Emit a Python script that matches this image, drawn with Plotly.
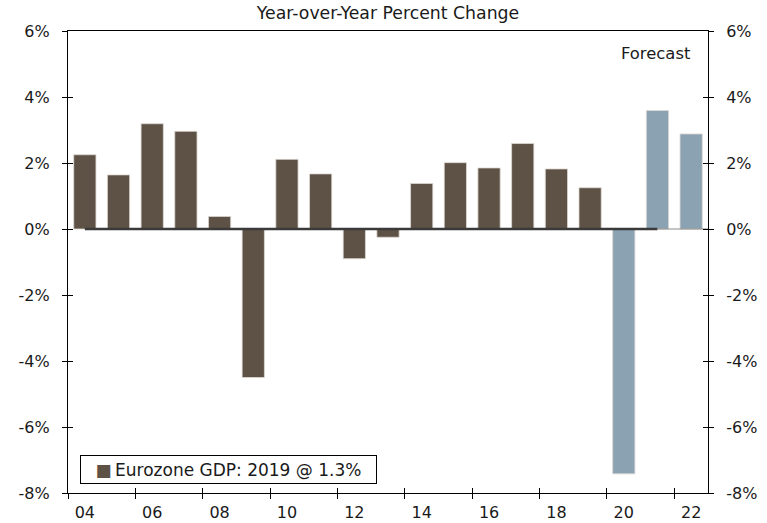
import plotly.graph_objects as go

years = list(range(2004, 2023))
gdp = [2.25, 1.64, 3.19, 2.96, 0.38, -4.5, 2.11, 1.67, -0.9, -0.25,
       1.38, 2.01, 1.85, 2.59, 1.82, 1.25, -7.42, 3.59, 2.88]
highlight = [2020, 2021, 2022]
tick_years = list(range(2004, 2023, 2))
tick_text = ["04", "06", "08", "10", "12", "14", "16", "18", "20", "22"]
y_ticks = [-8, -6, -4, -2, 0, 2, 4, 6]
y_text = ["-8%", "-6%", "-4%", "-2%", "0%", "2%", "4%", "6%"]
series_name = "Eurozone GDP: 2019 @ 1.3%"

BROWN = "#5E5246"
BLUE = "#8AA2B2"
FONT = "DejaVu Sans"

colors = [BLUE if y in highlight else BROWN for y in years]
xr = [years[0] - 0.5, years[-1] + 0.5]
boundaries = [t - 0.5 for t in tick_years]

fig = go.Figure()
fig.add_trace(go.Bar(
    x=years, y=gdp, width=0.66,
    marker=dict(color=colors, line=dict(color="#ddd8d2", width=0.8)),
    name=series_name, showlegend=False, hoverinfo="skip"))
# zero line
fig.add_trace(go.Scatter(x=[years[0], years[-2]], y=[0, 0], mode="lines",
                         line=dict(color="#3a3a3a", width=2.6),
                         showlegend=False, hoverinfo="skip"))
fig.add_trace(go.Scatter(x=[years[-2], xr[1]], y=[0, 0], mode="lines",
                         line=dict(color="#8a8a8a", width=1.2),
                         showlegend=False, hoverinfo="skip"))

# dummy traces to activate extra tick axes
for xa, ya in [("x2", "y"), ("x3", "y"), ("x", "y2"), ("x", "y3"), ("x", "y4")]:
    fig.add_trace(go.Scatter(x=[years[0]], y=[0], xaxis=xa, yaxis=ya,
                             mode="markers", marker=dict(opacity=0),
                             showlegend=False, hoverinfo="skip"))

tickfont = dict(family=FONT, size=16, color="#1a1a1a")
common = dict(showgrid=False, zeroline=False, automargin=False, fixedrange=True)

fig.update_layout(
    width=767, height=523,
    margin=dict(l=68, r=59, t=31, b=30, autoexpand=False),
    paper_bgcolor="white", plot_bgcolor="white",
    font=dict(family=FONT, size=16, color="#1a1a1a"),
    barmode="overlay",
    showlegend=False,
    title=dict(text="Year-over-Year Percent Change", x=0.5, xref="paper",
               xanchor="center", y=1 - 12.5 / 523, yref="container",
               yanchor="middle", automargin=False,
               font=dict(family=FONT, size=17.3, color="#1a1a1a")),
    xaxis=dict(range=xr, tickmode="array", tickvals=tick_years, ticktext=tick_text,
               ticks="outside", ticklen=5, tickcolor="rgba(0,0,0,0)",
               showline=True, linecolor="black", linewidth=1.3, mirror=True,
               tickfont=tickfont, **common),
    xaxis2=dict(range=xr, overlaying="x", anchor="y", tickmode="array",
                tickvals=boundaries, ticks="outside", ticklen=5, tickcolor="black",
                tickwidth=1, showticklabels=False, showline=False, **common),
    xaxis3=dict(range=xr, overlaying="x", anchor="y", tickmode="array",
                tickvals=boundaries, ticks="inside", ticklen=5, tickcolor="black",
                tickwidth=1, showticklabels=False, showline=False, **common),
    yaxis=dict(range=[-8, 6], tickmode="array", tickvals=y_ticks, ticktext=y_text,
               ticks="outside", ticklen=5, tickcolor="black", tickwidth=1,
               ticklabelstandoff=9,
               showline=True, linecolor="black", linewidth=1.3, mirror=True,
               tickfont=tickfont, **common),
    yaxis2=dict(range=[-8, 6], overlaying="y", side="right", anchor="x",
                tickmode="array", tickvals=y_ticks, ticktext=y_text,
                ticks="outside", ticklen=5, tickcolor="black", tickwidth=1,
                ticklabelstandoff=9, showline=False, tickfont=tickfont, **common),
    yaxis3=dict(range=[-8, 6], overlaying="y", side="left", anchor="x",
                tickmode="array", tickvals=y_ticks, ticks="inside", ticklen=5,
                tickcolor="black", tickwidth=1, showticklabels=False,
                showline=False, **common),
    yaxis4=dict(range=[-8, 6], overlaying="y", side="right", anchor="x",
                tickmode="array", tickvals=y_ticks, ticks="inside", ticklen=5,
                tickcolor="black", tickwidth=1, showticklabels=False,
                showline=False, **common),
    annotations=[
        dict(text="Forecast", xref="paper", yref="paper",
             x=(693 - 68) / 640, y=(493 - 53) / 462,
             xanchor="right", yanchor="middle", showarrow=False,
             font=dict(family=FONT, size=16.4, color="#1a1a1a")),
        # legend box
        dict(text=f'<span style="color:{BROWN}">\u25A0</span>\u2009{series_name}',
             xref="paper", yref="paper",
             x=(80 - 68) / 640, y=(493 - 469.5) / 462,
             xanchor="left", yanchor="middle", showarrow=False,
             width=289, height=21, align="center", valign="middle",
             bordercolor="black", borderwidth=1, borderpad=3, bgcolor="white",
             font=dict(family=FONT, size=17, color="#1a1a1a")),
    ],
)

fig.write_html("out.html",
               config={"displayModeBar": False},
               post_script="document.body.style.margin='0px';"
                           "document.body.style.overflow='hidden';")
